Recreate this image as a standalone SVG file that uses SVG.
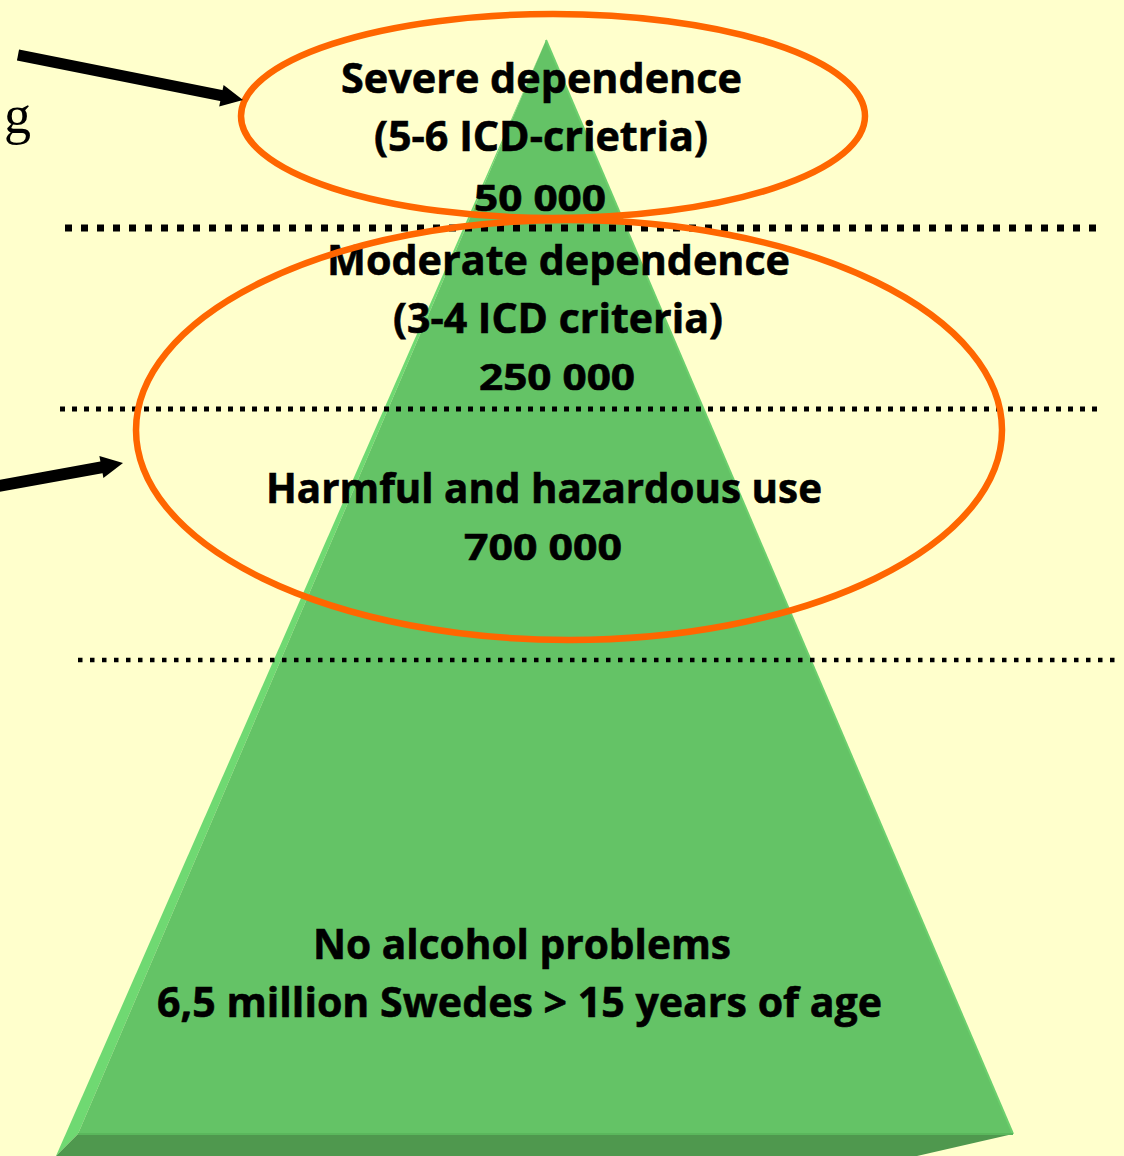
<svg xmlns="http://www.w3.org/2000/svg" width="1124" height="1156" viewBox="0 0 1124 1156">
  <style>
    .lbl { font-family: "Open Sans", "Noto Sans", "DejaVu Sans", sans-serif; font-weight: 700; fill: #000; stroke: #000; stroke-width: 0.6; text-anchor: middle; }
    .big { font-size: 41px; }
    .num { font-size: 35px; }
    .ring { fill: none; stroke: #FF6600; stroke-width: 6.5; }
    .dots { fill: none; stroke: #000; }
    .shaft { stroke: #000; stroke-linecap: butt; }
  </style>
  <rect width="1124" height="1156" fill="#FFFFCC"/>

  <g id="pyramid">
    <polygon points="546,40 56,1156 78,1134" fill="#6FD972"/>
    <polygon points="546,40 1013,1134 78,1134" fill="#64C366"/>
    <polygon points="56,1156 78,1134 1013,1134 917,1156" fill="#4F984E"/>
    <line x1="546" y1="40" x2="1013" y2="1134" stroke="#6CD06E" stroke-width="2"/>
    <line x1="78" y1="1134" x2="1013" y2="1134" stroke="#5AB75C" stroke-width="2"/>
  </g>

  <g id="dividers">
    <line class="dots" x1="65" y1="228" x2="1100" y2="228" stroke-width="7" stroke-dasharray="7 9"/>
    <line class="dots" x1="60" y1="409" x2="1100" y2="409" stroke-width="5" stroke-dasharray="5 7"/>
    <line class="dots" x1="78" y1="660" x2="1120" y2="660" stroke-width="4.5" stroke-dasharray="4.5 7.5"/>
  </g>

  <g id="level-severe">
    <text class="lbl big" x="541.5" y="93" textLength="401" lengthAdjust="spacingAndGlyphs">Severe dependence</text>
    <text class="lbl big" x="541" y="151" textLength="334" lengthAdjust="spacingAndGlyphs">(5-6 ICD-crietria)</text>
    <text class="lbl num" x="540" y="211" textLength="132" lengthAdjust="spacingAndGlyphs">50 000</text>
  </g>

  <g id="level-moderate">
    <text class="lbl big" x="558.5" y="275" textLength="463" lengthAdjust="spacingAndGlyphs">Moderate dependence</text>
    <text class="lbl big" x="558" y="333" textLength="330" lengthAdjust="spacingAndGlyphs">(3-4 ICD criteria)</text>
    <text class="lbl num" x="557" y="390" textLength="156" lengthAdjust="spacingAndGlyphs">250 000</text>
  </g>

  <g id="level-harmful">
    <text class="lbl big" x="544" y="503" textLength="556" lengthAdjust="spacingAndGlyphs">Harmful and hazardous use</text>
    <text class="lbl num" x="543" y="560" textLength="158" lengthAdjust="spacingAndGlyphs">700 000</text>
  </g>

  <g id="level-none">
    <text class="lbl big" x="522" y="959" textLength="418" lengthAdjust="spacingAndGlyphs">No alcohol problems</text>
    <text class="lbl big" x="519.5" y="1017" textLength="725" lengthAdjust="spacingAndGlyphs">6,5 million Swedes &gt; 15 years of age</text>
  </g>

  <g id="rings">
    <ellipse id="ring-severe" class="ring" cx="553" cy="116" rx="312" ry="102"/>
    <ellipse id="ring-moderate" class="ring" cx="569" cy="430" rx="433" ry="210"/>
  </g>

  <g id="connectors">
    <line class="shaft" x1="18" y1="55" x2="226" y2="96.5" stroke-width="11"/>
    <polygon points="243,100 223.6,84.9 219.2,106.5" fill="#000"/>
    <line class="shaft" x1="-4" y1="486.5" x2="104" y2="466.8" stroke-width="12"/>
    <polygon points="123,463 99.4,456 103.4,478" fill="#000"/>
  </g>

  <text x="4" y="133" font-family="Liberation Serif, serif" font-size="54" fill="#000">g</text>
</svg>
